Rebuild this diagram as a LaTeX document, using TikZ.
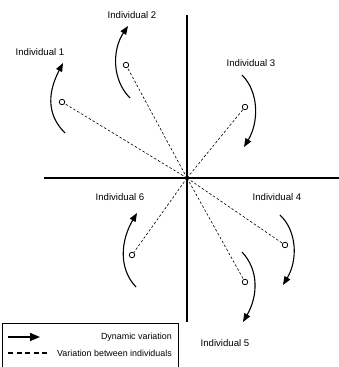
\documentclass[tikz,border=0pt]{standalone}
\usepackage{fontspec}
\setmainfont{Liberation Sans}
\usetikzlibrary{arrows.meta, positioning}

\begin{document}
\begin{tikzpicture}[
  x=1pt, y=-1pt,
  font=\fontsize{9.6}{10}\selectfont,
  axis/.style={line width=1.5pt},
  between/.style={dashed, line width=0.6pt, dash pattern=on 2.5pt off 2pt},
  dynamic/.style={line width=1.1pt, -{Triangle[length=8.5pt, width=6.5pt]}},
  indiv/.style={circle, draw, fill=white, line width=0.8pt,
    inner sep=0pt, minimum size=5.5pt},
  indlabel/.style={inner sep=0pt},
  legendtext/.style={font=\fontsize{8.9}{9}\selectfont, inner sep=0pt, anchor=east}
]
\useasboundingbox (0,0) rectangle (339,367);

% ── Axes ──────────────────────────────────────────────────────────────────
\coordinate (o) at (187,178);
\coordinate (ytop) at (187,15);
\coordinate (ybot) at (187,322);
\coordinate (xleft) at (44,178);
\coordinate (xright) at (339,178);
\draw[axis] (ytop) -- (ybot);
\draw[axis] (xleft) -- (xright);

% ── Individuals ───────────────────────────────────────────────────────────
\node[indiv] (i1) at (62,102) {};
\node[indiv] (i2) at (126,65) {};
\node[indiv] (i3) at (245,107) {};
\node[indiv] (i4) at (285,245) {};
\node[indiv] (i5) at (245,282) {};
\node[indiv] (i6) at (132,255) {};

\node[indlabel] (l1) at (40,52) {Individual 1};
\node[indlabel] (l2) at (132,15) {Individual 2};
\node[indlabel] (l3) at (251,63) {Individual 3};
\node[indlabel] (l4) at (277,197) {Individual 4};
\node[indlabel] (l5) at (225,343) {Individual 5};
\node[indlabel] (l6) at (120,197) {Individual 6};

% ── Variation between individuals ─────────────────────────────────────────
\foreach \i in {1,...,6}
  \draw[between] (o) -- (i\i);

% ── Dynamic variation ─────────────────────────────────────────────────────
\draw[dynamic] (65,133) .. controls (45,113) and (49,90) .. (63,63);
\draw[dynamic] (130,98) .. controls (112,80) and (112,50) .. (128,26);
\draw[dynamic] (242,75) .. controls (259,92) and (259,122) .. (244,147);
\draw[dynamic] (280,215) .. controls (297,231) and (298,260) .. (283,285);
\draw[dynamic] (242,252) .. controls (259,270) and (258,296) .. (243,322);
\draw[dynamic] (136,287) .. controls (118,268) and (121,240) .. (137,213);

% ── Legend ────────────────────────────────────────────────────────────────
\node[draw, line width=0.8pt, minimum width=176pt, minimum height=44pt,
      inner sep=0pt] (legend) at (90,345) {};
\coordinate (dynA) at (8,337);
\coordinate (dynB) at (40,337);
\draw[dynamic, line width=1.3pt, -{Triangle[length=10pt, width=8pt]}] (dynA) -- (dynB);
\node[legendtext] (dyntext) at (172,337) {Dynamic variation};
\coordinate (btwA) at (8,353);
\coordinate (btwB) at (48,353);
\draw[between, line width=1.1pt, dash pattern=on 5pt off 3.5pt] (btwA) -- (btwB);
\node[legendtext] (btwtext) at (172,353) {Variation between individuals};

\end{tikzpicture}
\end{document}
